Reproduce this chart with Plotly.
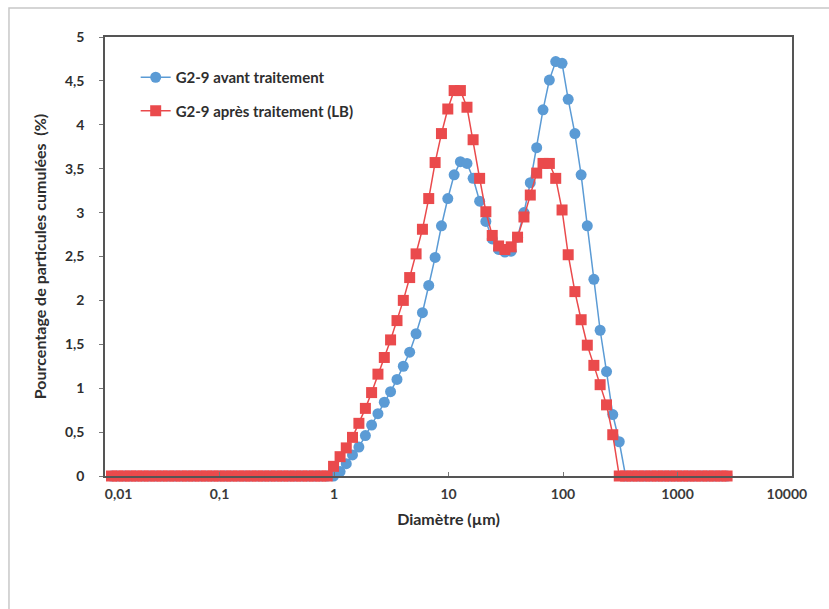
import plotly.graph_objects as go

# Diameter classes (µm)
diam = [0.0114, 0.0129, 0.0147, 0.0167, 0.0189, 0.0215, 0.0244, 0.0278, 0.0315, 0.0358,
        0.0407, 0.0463, 0.0526, 0.0597, 0.0679, 0.0771, 0.0876, 0.0995, 0.113, 0.128,
        0.146, 0.166, 0.188, 0.214, 0.243, 0.276, 0.314, 0.357, 0.405, 0.46,
        0.523, 0.594, 0.675, 0.767, 0.872,
        0.991, 1.13, 1.28, 1.45, 1.65, 1.88, 2.13, 2.42, 2.75, 3.12,
        3.55, 4.03, 4.58, 5.21, 5.92, 6.72, 7.64, 8.68, 9.86, 11.2,
        12.7, 14.5, 16.4, 18.7, 21.2, 24.1, 27.4, 31.1, 35.3, 40.1,
        45.6, 51.8, 58.9, 66.9, 76.0, 86.4, 98.1, 111, 127, 144,
        163, 186, 211, 240, 272, 310, 352, 400, 454, 516,
        586, 666, 756, 859, 976, 1110, 1260, 1430, 1630, 1850,
        2100, 2390, 2710]

zeros_low = [0.0] * 35

avant = zeros_low + [
    0.0, 0.05, 0.14, 0.24, 0.33, 0.46, 0.58, 0.71, 0.84, 0.96,
    1.10, 1.25, 1.41, 1.62, 1.86, 2.17, 2.49, 2.85, 3.16, 3.43,
    3.58, 3.56, 3.39, 3.13, 2.90, 2.70, 2.58, 2.55, 2.56, 2.72,
    3.00, 3.34, 3.74, 4.17, 4.51, 4.72, 4.70, 4.29, 3.90, 3.43,
    2.85, 2.24, 1.66, 1.19, 0.70, 0.39, 0.0, 0.0, 0.0, 0.0,
    0.0, 0.0, 0.0, 0.0, 0.0, 0.0, 0.0, 0.0, 0.0, 0.0,
    0.0, 0.0, 0.0]

apres = zeros_low + [
    0.11, 0.22, 0.32, 0.44, 0.60, 0.77, 0.95, 1.16, 1.35, 1.55,
    1.77, 2.00, 2.26, 2.53, 2.81, 3.16, 3.57, 3.90, 4.18, 4.39,
    4.39, 4.20, 3.83, 3.39, 3.01, 2.74, 2.62, 2.58, 2.61, 2.72,
    2.95, 3.20, 3.45, 3.56, 3.56, 3.39, 3.03, 2.52, 2.10, 1.78,
    1.49, 1.26, 1.04, 0.81, 0.47, 0.0, 0.0, 0.0, 0.0, 0.0,
    0.0, 0.0, 0.0, 0.0, 0.0, 0.0, 0.0, 0.0, 0.0, 0.0,
    0.0, 0.0, 0.0]

NB = "\u00a0"
x_tickvals = [0.01, 0.1, 1, 10, 100, 1000, 10000]
x_ticktext = [NB * 8 + "0,01", "0,1", "1", "10", "100", "1000", "10000" + NB * 3]
y_tickvals = [0, 0.5, 1, 1.5, 2, 2.5, 3, 3.5, 4, 4.5, 5]
y_ticktext = ["0", "0,5", "1", "1,5", "2", "2,5", "3", "3,5", "4", "4,5", "5"]

BLUE = "#5b9bd5"
RED = "#ea4a4c"
FONT = "Lato"
TXT = "#2e2e2e"

fig = go.Figure()
fig.add_trace(go.Scatter(
    x=diam, y=avant, mode="lines+markers", name="G2-9 avant traitement",
    line=dict(color=BLUE, width=1.5),
    marker=dict(symbol="circle", size=11, color=BLUE),
    cliponaxis=False, legendgroup="a"))
fig.add_trace(go.Scatter(
    x=diam, y=apres, mode="lines+markers", name="G2-9 après traitement (LB)",
    line=dict(color=RED, width=1.5),
    marker=dict(symbol="square", size=11, color=RED),
    cliponaxis=False, legendgroup="b"))

W, H = 829, 609
L, R, T, B = 105, 30, 37, 133
pw, ph = W - L - R, H - T - B

fig.update_layout(
    width=W, height=H,
    margin=dict(l=L, r=R, t=T, b=B, pad=0),
    paper_bgcolor="white", plot_bgcolor="white",
    font=dict(family=FONT, color=TXT, size=12),
    showlegend=True,
    legend=dict(x=(136 - L) / pw, y=(476 - 61) / ph, xanchor="left", yanchor="top",
                bgcolor="rgba(0,0,0,0)", tracegroupgap=11, itemwidth=30,
                font=dict(family=FONT, size=15, color=TXT, weight="bold")),
    xaxis=dict(type="log", range=[-2, 4], tickvals=x_tickvals, ticktext=x_ticktext,
               showgrid=False, zeroline=False, showline=True, linecolor="#555555",
               linewidth=1.5, mirror=True, ticks="inside", ticklen=4, tickcolor="#777777",
               ticklabelstandoff=4,
               tickfont=dict(family=FONT, size=14, color="#3a3a3a", weight="bold"),
               title=dict(text="Diamètre (µm)", standoff=13,
                          font=dict(family=FONT, size=16, color=TXT, weight="bold"))),
    yaxis=dict(range=[0, 5], tickvals=y_tickvals, ticktext=y_ticktext,
               showgrid=False, zeroline=False, showline=True, linecolor="#555555",
               linewidth=1.5, mirror=True, ticks="outside", ticklen=4, tickcolor="#777777",
               ticklabelstandoff=12,
               tickfont=dict(family=FONT, size=14, color=TXT, weight="bold"),
               title=dict(text="Pourcentage de particules cumulées  (%)", standoff=14,
                          font=dict(family=FONT, size=16, color=TXT, weight="bold"))),
)

# Outer chart frame (top and left edges visible)
fig.add_shape(type="rect", xref="paper", yref="paper",
              x0=(8 - L) / pw, x1=(860 - L) / pw,
              y0=(476 - 640) / ph, y1=(476 - 8) / ph,
              line=dict(color="#c8c8c8", width=1.5), fillcolor="rgba(0,0,0,0)", layer="below")

fig.write_html("out.html")
